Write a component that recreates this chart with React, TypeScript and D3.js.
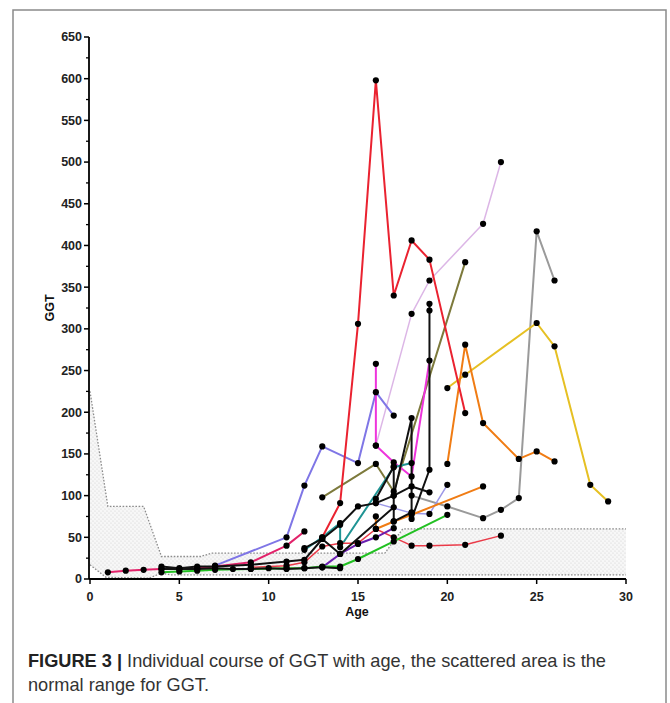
import React from "react";
import * as d3 from "d3";

type P = [number, number];

// normal range (scattered area)
const normalUpper: P[] = [[0, 225], [1, 87], [3, 87], [4, 27], [6.2, 27], [6.8, 31], [16.5, 31], [17.5, 60], [30, 60]];
const normalLower: P[] = [[0, 17], [0.9, 2], [3.3, 1], [4, 7], [4.5, 5], [30, 5]];

const xTicks = [0, 5, 10, 15, 20, 25, 30];
const yTicks = d3.range(0, 651, 50);
const yMinor = d3.range(25, 650, 50);

const redPeak: P[] = [[13, 50], [14, 91], [15, 306], [16, 598], [17, 340], [18, 406], [19, 383], [21, 199]];
const plum: P[] = [[16, 160], [18, 318], [19, 358], [22, 426], [23, 500]];
const magenta: P[] = [[16, 258], [16, 160], [17, 140], [18, 123], [19, 262]];
const slateBlue: P[] = [[7, 16], [11, 50], [12, 112], [13, 159], [15, 139], [16, 224], [17, 196]];
const periwinkle: P[] = [[16, 91], [18, 79], [19, 78], [20, 113]];
const olive: P[] = [[13, 98], [16, 138], [17, 105], [21, 380]];
const orange: P[] = [[20, 138], [21, 281], [22, 187], [24, 144], [25, 153], [26, 141]];
const orange2: P[] = [[16, 75], [16, 60], [17, 69], [18, 77], [22, 111]];
const gold: P[] = [[20, 229], [21, 245], [25, 307], [26, 279], [28, 113], [29, 93]];
const gray: P[] = [[18, 100], [20, 87], [22, 73], [23, 83], [24, 97], [25, 417], [26, 358]];
const green: P[] = [[4, 8], [5, 9], [6, 10], [7, 11], [9, 12], [11, 13], [12, 13], [13, 15], [14, 15], [15, 24], [17, 45], [20, 77]];
const purple: P[] = [[13, 14], [14, 30], [15, 42], [16, 50], [17, 61]];
const crimson: P[] = [[1, 8], [2, 10], [3, 11], [4, 12], [5, 12], [6, 13], [7, 15], [9, 20], [11, 40], [12, 57]];
const red2: P[] = [[9, 14], [11, 16], [12, 20], [13, 39], [14, 43], [15, 43], [16, 60], [17, 50], [18, 40], [19, 40], [21, 41], [23, 52]];
const teal: P[] = [[12, 35], [13, 50], [14, 67], [14, 38], [17, 134], [18, 139]];
const black1: P[] = [[4, 12], [5, 12], [6, 12], [7, 13], [8, 12], [9, 12], [10, 13], [11, 12], [12, 13], [13, 14], [14, 13]];
const black2: P[] = [[4, 15], [5, 13], [6, 15], [7, 15], [9, 17], [11, 21], [12, 23], [13, 48], [14, 65], [15, 87], [16, 91], [17, 100], [18, 111], [19, 104]];
const black3: P[] = [[12, 37], [13, 48], [14, 30], [17, 86]];
const black4: P[] = [[16, 96], [17, 135], [17, 69], [18, 80]];
const black5: P[] = [[17, 100], [18, 193], [18, 72], [19, 131], [19, 322], [19, 330]];

const seriesList: { data: P[]; color: string; width: number }[] = [
  { data: plum, color: "#dcb6e6", width: 1.5 },
  { data: gray, color: "#9a9a9a", width: 2 },
  { data: gold, color: "#e6c023", width: 2 },
  { data: orange, color: "#f07c14", width: 2 },
  { data: olive, color: "#7d7a3c", width: 2 },
  { data: slateBlue, color: "#7f76e6", width: 2 },
  { data: periwinkle, color: "#9c98e8", width: 1.5 },
  { data: magenta, color: "#ee34dc", width: 2 },
  { data: teal, color: "#1f9494", width: 2 },
  { data: orange2, color: "#f07c14", width: 2 },
  { data: red2, color: "#ea3a48", width: 1.5 },
  { data: crimson, color: "#e2226a", width: 2 },
  { data: purple, color: "#6a1fb0", width: 2 },
  { data: green, color: "#22c022", width: 2 },
  { data: black1, color: "#111111", width: 2 },
  { data: black2, color: "#111111", width: 2 },
  { data: black3, color: "#111111", width: 2 },
  { data: black4, color: "#111111", width: 2 },
  { data: black5, color: "#111111", width: 2 },
  { data: redPeak, color: "#ea2230", width: 2 },
];

const x = d3.scaleLinear().domain([0, 30]).range([90, 626]);
const y = d3.scaleLinear().domain([0, 650]).range([579, 37]);

export default function App() {
  const line = d3.line<P>().x((d) => x(d[0])).y((d) => y(d[1]));
  const area = d3
    .area<{ a: number; lo: number; hi: number }>()
    .x((d) => x(d.a))
    .y0((d) => y(d.lo))
    .y1((d) => y(d.hi));
  const interp = (pts: P[], a: number) => {
    for (let i = 0; i < pts.length - 1; i++) {
      const [a0, v0] = pts[i];
      const [a1, v1] = pts[i + 1];
      if (a >= a0 && a <= a1) return v0 + ((v1 - v0) * (a - a0)) / (a1 - a0);
    }
    return pts[pts.length - 1][1];
  };
  const ages = Array.from(new Set([...normalUpper.map((d) => d[0]), ...normalLower.map((d) => d[0])])).sort((a, b) => a - b);
  const areaData = ages.map((a) => ({ a, lo: interp(normalLower, a), hi: interp(normalUpper, a) }));

  const bold = "'Liberation Sans', Arial, Helvetica, sans-serif";
  const cap = "'Liberation Sans', Arial, sans-serif";

  return (
    <svg width={670} height={703} style={{ position: "absolute", left: 0, top: 0, background: "#fff" }} xmlns="http://www.w3.org/2000/svg">
      <defs>
        <pattern id="dots" width={4} height={4} patternUnits="userSpaceOnUse">
          <rect width={4} height={4} fill="#f7f7f7" />
          <circle cx={1} cy={1} r={0.6} fill="#d0d0d0" />
          <circle cx={3} cy={3} r={0.6} fill="#d0d0d0" />
        </pattern>
      </defs>
      <rect x={13} y={10} width={653} height={710} fill="#fff" stroke="#8a8a8a" strokeWidth={1.5} />

      {/* normal range */}
      <path d={area(areaData) || ""} fill="url(#dots)" stroke="none" />
      <path d={line(normalUpper) || ""} fill="none" stroke="#8c8c8c" strokeWidth={1.3} strokeDasharray="1.6,1.6" />
      <path d={line(normalLower) || ""} fill="none" stroke="#8c8c8c" strokeWidth={1.3} strokeDasharray="1.6,1.6" />

      {/* series */}
      {seriesList.map((s, i) => (
        <path key={"l" + i} d={line(s.data) || ""} fill="none" stroke={s.color} strokeWidth={s.width} strokeLinejoin="round" />
      ))}
      {seriesList.map((s, i) =>
        s.data.map((d, j) => <circle key={"c" + i + "-" + j} cx={x(d[0])} cy={y(d[1])} r={3.1} fill="#000" />)
      )}

      {/* y axis */}
      <line x1={89} x2={89} y1={y(650)} y2={y(0)} stroke="#000" strokeWidth={1.8} />
      {yTicks.map((t) => (
        <g key={"yt" + t}>
          <line x1={84} x2={89} y1={y(t)} y2={y(t)} stroke="#000" strokeWidth={1.5} />
          <text x={82} y={y(t)} dy="0.35em" textAnchor="end" fontFamily={bold} fontWeight="bold" fontSize={12.5} fill="#222">
            {t}
          </text>
        </g>
      ))}
      {yMinor.map((t) => (
        <line key={"ym" + t} x1={86} x2={89} y1={y(t)} y2={y(t)} stroke="#000" strokeWidth={1.3} />
      ))}

      {/* x axis */}
      <line x1={89} x2={x(30)} y1={579} y2={579} stroke="#000" strokeWidth={1.8} />
      {xTicks.map((t) => (
        <g key={"xt" + t}>
          <line x1={x(t)} x2={x(t)} y1={579} y2={584} stroke="#000" strokeWidth={1.5} />
          <text x={x(t)} y={597} dy="0.35em" textAnchor="middle" fontFamily={bold} fontWeight="bold" fontSize={12.5} fill="#222">
            {t}
          </text>
        </g>
      ))}
      <text x={357} y={612} dy="0.35em" textAnchor="middle" fontFamily={bold} fontWeight="bold" fontSize={12.5} fill="#111">
        Age
      </text>
      <text transform="translate(50,308) rotate(-90)" dy="0.35em" textAnchor="middle" fontFamily={bold} fontWeight="bold" fontSize={12.5} fill="#111">
        GGT
      </text>

      {/* caption */}
      <text x={28} y={667} fontFamily={cap} fontSize={18.2} fill="#333">
        <tspan fontWeight="bold" fill="#222">FIGURE 3 | </tspan>
        <tspan>Individual course of GGT with age, the scattered area is the</tspan>
      </text>
      <text x={28} y={691} fontFamily={cap} fontSize={18.2} fill="#333">
        normal range for GGT.
      </text>
    </svg>
  );
}
